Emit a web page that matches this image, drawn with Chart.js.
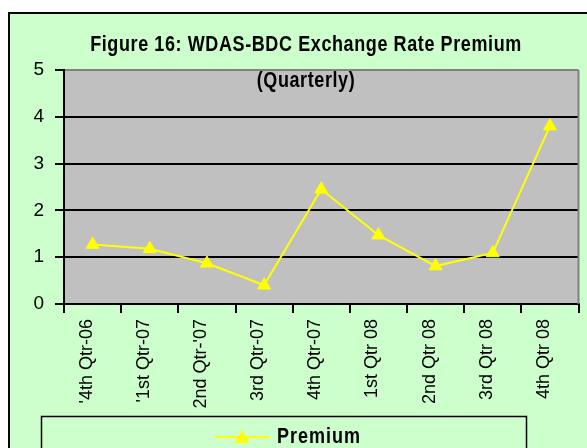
<!DOCTYPE html>
<html>
<head>
<meta charset="utf-8">
<script src="https://cdn.jsdelivr.net/npm/chart.js@4"></script>
<style>
  body { margin: 0; background: #fff; }
  #wrap { position: relative; width: 587px; height: 448px; }
</style>
</head>
<body>
<div id="wrap"><canvas id="premiumChart"></canvas></div>
<script>
// datos
const quarters = ["'4th Qtr-06", "'1st Qtr-07", "2nd Qtr-'07", "3rd Qtr-07", "4th Qtr-07",
    "1st Qtr 08", "2nd Qtr 08", "3rd Qtr 08", "4th Qtr 08"];
const premium = [1.27, 1.18, 0.87, 0.40, 2.45, 1.47, 0.81, 1.09, 3.80];
const yTicks = [0, 1, 2, 3, 4, 5];
const seriesName = 'Premium';
const titleLine1 = 'Figure 16: WDAS-BDC Exchange Rate Premium';
const titleLine2 = '(Quarterly)';

const FONT = "'Liberation Sans', Arial, sans-serif";
const yellow = '#FFFF00';

// texto estirado en vertical como en el original
function drawText(ctx, text, x, y, font, spacing, sy, align) {
    ctx.save();
    ctx.font = font;
    ctx.letterSpacing = spacing + 'px';
    ctx.fillStyle = '#000';
    ctx.textAlign = align || 'center';
    ctx.textBaseline = 'middle';
    ctx.translate(x, y);
    ctx.scale(1, sy);
    ctx.fillText(text, 0, 0);
    ctx.restore();
}

const marco = {
    id: 'marco',
    beforeDraw(chart) {
        const ctx = chart.ctx;
        const a = chart.chartArea;
        ctx.save();
        ctx.fillStyle = '#fff';
        ctx.fillRect(0, 0, chart.width, chart.height);
        ctx.fillStyle = '#CCFFCC';
        ctx.fillRect(9, 13, chart.width, chart.height);
        ctx.strokeStyle = '#000';
        ctx.lineWidth = 2;
        ctx.beginPath();
        ctx.moveTo(9, chart.height);
        ctx.lineTo(9, 13);
        ctx.lineTo(chart.width, 13);
        ctx.stroke();
        ctx.fillStyle = '#C0C0C0';
        ctx.fillRect(a.left, a.top, a.right - a.left, a.bottom - a.top);
        ctx.restore();
    },
    beforeDatasetsDraw(chart) {
        const ctx = chart.ctx;
        const a = chart.chartArea;
        ctx.save();
        ctx.strokeStyle = '#808080';
        ctx.lineWidth = 2;
        ctx.beginPath();
        ctx.moveTo(a.right, a.top);
        ctx.lineTo(a.right, a.bottom);
        ctx.stroke();
        ctx.restore();
    },
    afterDraw(chart) {
        const ctx = chart.ctx;
        drawText(ctx, titleLine1, 306, 45, 'bold 18px ' + FONT, 0.6, 1.2);
        drawText(ctx, titleLine2, 306, 81, 'bold 18px ' + FONT, 0.6, 1.2);

        // leyenda
        ctx.save();
        ctx.strokeStyle = '#000';
        ctx.lineWidth = 1.5;
        ctx.strokeRect(41.5, 416.5, 485, 60);
        ctx.strokeStyle = yellow;
        ctx.lineWidth = 2;
        ctx.beginPath();
        ctx.moveTo(215, 437);
        ctx.lineTo(270, 437);
        ctx.stroke();
        ctx.fillStyle = yellow;
        ctx.beginPath();
        ctx.moveTo(242, 430);
        ctx.lineTo(249, 443);
        ctx.lineTo(235, 443);
        ctx.closePath();
        ctx.fill();
        ctx.restore();
        drawText(ctx, seriesName, 277, 437, 'bold 18px ' + FONT, 1, 1.2, 'left');
    }
};

const grafico = new Chart(document.getElementById('premiumChart').getContext('2d'), {
    type: 'line',
    data: {
        labels: quarters,
        datasets: [{
            label: seriesName,
            data: premium,
            borderColor: yellow,
            backgroundColor: yellow,
            borderWidth: 2,
            tension: 0,
            pointStyle: 'triangle',
            pointRadius: 7.5,
            pointBorderWidth: 1,
            pointBackgroundColor: yellow,
            pointBorderColor: yellow
        }]
    },
    options: {
        responsive: true,
        maintainAspectRatio: false,
        animation: false,
        layout: { padding: { top: 70, right: 5, left: 0, bottom: 0 } },
        plugins: {
            legend: { display: false },
            title: { display: false },
            tooltip: { enabled: false }
        },
        scales: {
            x: {
                offset: true,
                grid: {
                    offset: true,
                    drawOnChartArea: false,
                    drawTicks: true,
                    tickLength: 9,
                    color: '#000',
                    lineWidth: 2
                },
                border: { color: '#000', width: 2 },
                ticks: {
                    autoSkip: false,
                    maxRotation: 90,
                    minRotation: 90,
                    padding: 6,
                    labelOffset: -6,
                    color: '#000',
                    font: { family: FONT, size: 18 }
                },
                afterFit(scale) { scale.height = 144; }
            },
            y: {
                min: 0,
                max: 5,
                ticks: {
                    stepSize: 1,
                    padding: 11,
                    color: '#000',
                    font: { family: FONT, size: 19 },
                    callback: (v) => yTicks.includes(v) ? String(v) : ''
                },
                grid: {
                    color: (c) => (c.tick && c.tick.value === 5) ? '#808080' : '#000',
                    tickColor: '#000',
                    lineWidth: 2,
                    tickLength: 9
                },
                border: { color: '#000', width: 2 },
                afterFit(scale) { scale.width = 64; }
            }
        }
    },
    plugins: [marco]
});
</script>
</body>
</html>
